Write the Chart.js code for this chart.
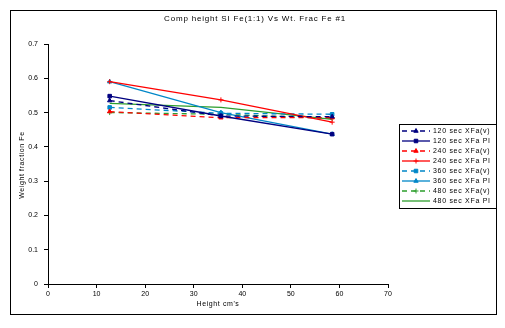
<!DOCTYPE html>
<html>
<head>
<meta charset="utf-8">
<script src="https://cdn.jsdelivr.net/npm/chart.js@4.4.1/dist/chart.umd.min.js"></script>
<style>
  html, body { margin: 0; padding: 0; background: #fff; }
  #wrap { width: 505px; height: 328px; }
</style>
</head>
<body>
<div id="wrap"><canvas id="chart" width="505" height="328"></canvas></div>
<script>
// Dados
const heights = [12.7, 35.6, 58.5];
const xTicks = [0, 10, 20, 30, 40, 50, 60, 70];
const yTicks = [0, 0.1, 0.2, 0.3, 0.4, 0.5, 0.6, 0.7];

const labels = ['120 sec XFa(v)', '120 sec XFa PI', '240 sec XFa(v)', '240 sec XFa PI',
                '360 sec XFa(v)', '360 sec XFa PI', '480 sec XFa(v)', '480 sec XFa PI'];

const s120v  = [0.535, 0.490, 0.488];
const s120pi = [0.548, 0.490, 0.437];
const s240v  = [0.503, 0.485, 0.485];
const s240pi = [0.590, 0.537, 0.472];
const s360v  = [0.515, 0.498, 0.495];
const s360pi = [0.590, 0.500, 0.437];
const s480v  = [0.500, 0.495, 0.483];
const s480pi = [0.527, 0.515, 0.480];

const NAVY = '#000080', RED = '#ff0000', BLUE = '#0087c8', GREEN = '#2d9e2d';
const FONT = '"Liberation Sans", Arial, sans-serif';

function serie(label, values, color, dashed, marker) {
    return {
        label: label,
        data: heights.map((h, i) => ({ x: h, y: values[i] })),
        borderColor: color,
        backgroundColor: color,
        borderWidth: 1.3,
        borderDash: dashed ? [5, 4] : [],
        pointStyle: marker || 'circle',
        pointRadius: marker ? 2.5 : 0,
        pointBorderWidth: 1,
        fill: false,
        tension: 0
    };
}

const datasets = [
    serie(labels[0], s120v, NAVY, true, 'triangle'),
    serie(labels[1], s120pi, NAVY, false, 'rect'),
    serie(labels[2], s240v, RED, true, 'triangle'),
    serie(labels[3], s240pi, RED, false, 'cross'),
    serie(labels[4], s360v, BLUE, true, 'rect'),
    serie(labels[5], s360pi, BLUE, false, 'triangle'),
    serie(labels[6], s480v, GREEN, true, 'cross'),
    serie(labels[7], s480pi, GREEN, false, null)
];

// Moldura, títulos e legenda desenhados à mão
const decoracao = {
    id: 'decoracao',
    afterDraw(chart) {
        const ctx = chart.ctx;
        const area = chart.chartArea;
        ctx.save();
        ctx.strokeStyle = '#000';
        ctx.lineWidth = 1;
        ctx.strokeRect(10.5, 10.5, 486, 304);

        ctx.fillStyle = '#000';
        ctx.textAlign = 'center';
        ctx.textBaseline = 'middle';
        ctx.font = '8px ' + FONT;
        ctx.letterSpacing = '0.8px';
        ctx.fillText('Comp height SI Fe(1:1) Vs Wt. Frac Fe #1', 255, 19);

        ctx.font = '7px ' + FONT;
        ctx.letterSpacing = '0.6px';
        ctx.fillText("Height cm's", (area.left + area.right) / 2, 304);

        ctx.save();
        ctx.translate(22, 165);
        ctx.rotate(-Math.PI / 2);
        ctx.fillText('Weight fraction Fe', 0, 0);
        ctx.restore();

        // legenda
        ctx.letterSpacing = '0px';
        ctx.strokeRect(399.5, 124.5, 97, 84);
        ctx.textAlign = 'left';
        chart.data.datasets.forEach((ds, i) => {
            const y = 131 + i * 10;
            ctx.save();
            ctx.strokeStyle = ds.borderColor;
            ctx.lineWidth = 1.3;
            ctx.setLineDash(ds.borderDash);
            ctx.beginPath();
            ctx.moveTo(402, y);
            ctx.lineTo(430, y);
            ctx.stroke();
            ctx.restore();
            if (ds.pointRadius > 0) {
                ctx.save();
                ctx.strokeStyle = ds.borderColor;
                ctx.fillStyle = ds.backgroundColor;
                ctx.lineWidth = 1;
                Chart.helpers.drawPoint(ctx, { pointStyle: ds.pointStyle, radius: 2.5, rotation: 0, borderWidth: 1 }, 416, y);
                ctx.restore();
            }
            ctx.fillStyle = '#000';
            ctx.letterSpacing = '0.7px';
            ctx.fillText(ds.label, 433, y + 0.5);
            ctx.letterSpacing = '0px';
        });
        ctx.restore();
    }
};

const ctxGrafico = document.getElementById('chart').getContext('2d');
new Chart(ctxGrafico, {
    type: 'line',
    data: { datasets: datasets },
    options: {
        responsive: false,
        animation: false,
        layout: { padding: { left: 0, top: 44, right: 117, bottom: 0 } },
        plugins: {
            legend: { display: false },
            title: { display: false },
            tooltip: { enabled: false }
        },
        scales: {
            x: {
                type: 'linear',
                min: 0, max: 70,
                afterFit: s => { s.height = 44; },
                afterBuildTicks: s => { s.ticks = xTicks.map(v => ({ value: v })); },
                grid: { drawOnChartArea: false, color: '#000', tickLength: 4, tickWidth: 1 },
                border: { color: '#000', width: 1 },
                ticks: { color: '#000', font: { family: FONT, size: 7 }, padding: 2, maxRotation: 0 }
            },
            y: {
                min: 0, max: 0.7,
                afterFit: s => { s.width = 48; },
                afterBuildTicks: s => { s.ticks = yTicks.map(v => ({ value: v })); },
                grid: { drawOnChartArea: false, color: '#000', tickLength: 4, tickWidth: 1 },
                border: { color: '#000', width: 1 },
                ticks: {
                    color: '#000', font: { family: FONT, size: 7 }, padding: 6,
                    callback: v => v === 0 ? '0' : v.toFixed(1)
                }
            }
        }
    },
    plugins: [decoracao]
});
</script>
</body>
</html>
